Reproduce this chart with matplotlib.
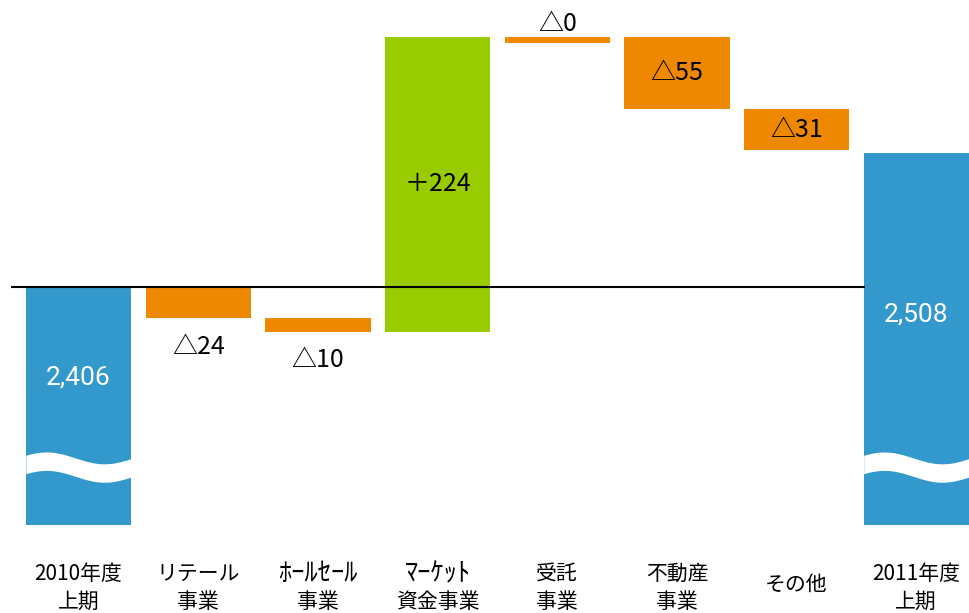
import numpy as np
import matplotlib
matplotlib.use('Agg')
import matplotlib.pyplot as plt
import matplotlib.transforms as mtransforms

plt.rcParams['font.family'] = ['Noto Sans CJK JP', 'DejaVu Sans']

# data
categories = ['2010年度\n上期', 'リテール\n事業', 'ﾎｰﾙｾｰﾙ\n事業', 'ﾏｰｹｯﾄ\n資金事業',
              '受託\n事業', '不動産\n事業', 'その他', '2011年度\n上期']
start_value = 2406
end_value = 2508
deltas = [-24, -10, 224, 0, -55, -31]
delta_labels = ['△24', '△10', '＋224', '△0', '△55', '△31']
label_place = ['below', 'below', 'inside', 'above', 'inside', 'inside']

blue = '#3399CC'
orange = '#EE8800'
green = '#99CC00'

fig = plt.figure(figsize=(9.69, 6.13), dpi=100)
ax = fig.add_axes([0, 88 / 613, 1, 525 / 613])
ymin, ymax = 2225, 2624
ax.set_xlim(-0.656, 7.44)
ax.set_ylim(ymin, ymax)
ax.axis('off')

width = 0.88
x = np.arange(len(categories))

# start / end bars (axis is broken, so they stand on the bottom of the axes)
ax.bar(x[0], start_value - ymin, bottom=ymin, width=width, color=blue, zorder=2)
ax.bar(x[-1], end_value - ymin, bottom=ymin, width=width, color=blue, zorder=2)

# step bars
running = start_value
for i, d in enumerate(deltas):
    xi = x[i + 1]
    h = max(abs(d), 5)
    if d > 0:
        bottom = running
        col = green
    else:
        bottom = running - h
        col = orange
    ax.bar(xi, h, bottom=bottom, width=width, color=col, zorder=2)
    if label_place[i] == 'below':
        ax.annotate(delta_labels[i], (xi, bottom), xytext=(0, -11),
                    textcoords='offset points', ha='center', va='top', fontsize=18)
    elif label_place[i] == 'above':
        ax.annotate(delta_labels[i], (xi, bottom + h), xytext=(0, 0),
                    textcoords='offset points', ha='center', va='bottom', fontsize=18)
    else:
        ax.text(xi, bottom + h / 2, delta_labels[i], ha='center', va='center', fontsize=18)
    running += d

# baseline at the starting value
ax.plot([-0.556, x[-1] - width / 2], [start_value, start_value], color='black', lw=1.5, zorder=3)

# value labels on the blue bars
ax.text(x[0], start_value - 69, f'{start_value:,}', color='white', ha='center', va='center',
        fontsize=19, family=['Roboto', 'DejaVu Sans'])
ax.text(x[-1], end_value - 123, f'{end_value:,}', color='white', ha='center', va='center',
        fontsize=19, family=['Roboto', 'DejaVu Sans'])

# wavy break mark on the blue bars
for xc in (x[0], x[-1]):
    xs = np.linspace(xc - width / 2, xc + width / 2, 100)
    t = (xs - (xc - width / 2)) / width
    mid = 2269 + 4.5 * np.sin(2 * np.pi * (t + 0.08) / 1.1)
    ax.fill_between(xs, mid - 7, mid + 7, color='white', lw=0, zorder=3)

# category labels (one text per line; half-width kana drawn larger)
trans = mtransforms.blended_transform_factory(ax.transData, fig.transFigure)
for xi, c in zip(x, categories):
    lines = c.split('\n')
    if len(lines) == 1:
        ys = [585]
    else:
        ys = [574, 602]
    for yp, line in zip(ys, lines):
        halfwidth = any('\uff61' <= ch <= '\uff9f' for ch in line)
        ax.text(xi, 1 - yp / 613, line, transform=trans, ha='center', va='center',
                fontsize=19 if halfwidth else 15)

fig.savefig('out.png', dpi=100)
